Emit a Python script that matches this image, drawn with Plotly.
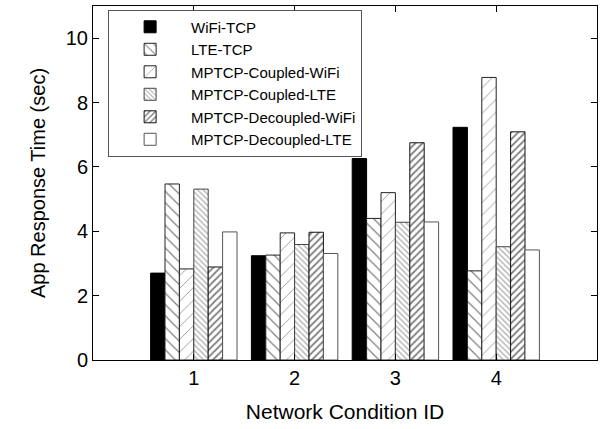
import plotly.graph_objects as go

conditions = [1, 2, 3, 4]
series_names = ["WiFi-TCP", "LTE-TCP", "MPTCP-Coupled-WiFi", "MPTCP-Coupled-LTE",
                "MPTCP-Decoupled-WiFi", "MPTCP-Decoupled-LTE"]
wifi_tcp = [2.70, 3.24, 6.26, 7.23]
lte_tcp = [5.47, 3.26, 4.40, 2.77]
coupled_wifi = [2.83, 3.95, 5.20, 8.78]
coupled_lte = [5.31, 3.59, 4.28, 3.52]
decoupled_wifi = [2.89, 3.97, 6.75, 7.09]
decoupled_lte = [3.98, 3.31, 4.29, 3.42]
values = [wifi_tcp, lte_tcp, coupled_wifi, coupled_lte, decoupled_wifi, decoupled_lte]

styles = [
    dict(color="black", line=dict(color="black", width=1)),
    dict(color="white", line=dict(color="#222", width=1),
         pattern=dict(shape="\\", fgcolor="black", bgcolor="white", size=8, solidity=0.15)),
    dict(color="white", line=dict(color="#222", width=1),
         pattern=dict(shape="/", fgcolor="#333", bgcolor="white", size=9, solidity=0.1)),
    dict(color="white", line=dict(color="#444", width=1),
         pattern=dict(shape="\\", fgcolor="#666", bgcolor="white", size=4, solidity=0.35)),
    dict(color="white", line=dict(color="#111", width=1),
         pattern=dict(shape="/", fgcolor="black", bgcolor="white", size=5, solidity=0.35)),
    dict(color="white", line=dict(color="#555", width=1)),
]

fig = go.Figure()
for name, vals, st in zip(series_names, values, styles):
    fig.add_trace(go.Bar(x=conditions, y=vals, name=name, marker=st))

font_family = "Liberation Sans, Arial, Helvetica, sans-serif"
fig.update_layout(
    width=602, height=429,
    margin=dict(l=93, r=5, t=6, b=69),
    paper_bgcolor="white", plot_bgcolor="white",
    barmode="group", bargap=1/7, bargroupgap=0,
    font=dict(family=font_family, size=20, color="black"),
    showlegend=True,
    legend=dict(x=0.03, y=0.99, xanchor="left", yanchor="top",
                bgcolor="white", bordercolor="#555", borderwidth=1,
                font=dict(size=15), tracegroupgap=0, itemwidth=72),
    xaxis=dict(range=[0, 5], tickvals=conditions, ticktext=[str(c) for c in conditions],
               showline=True, linecolor="black", linewidth=1, mirror="ticks",
               ticks="inside", ticklen=6, tickcolor="black", showgrid=False, zeroline=False,
               tickfont=dict(size=20),
               title=dict(text="Network Condition ID", font=dict(size=21), standoff=16)),
    yaxis=dict(range=[0, 11], tickvals=[0, 2, 4, 6, 8, 10],
               showline=True, linecolor="black", linewidth=1, mirror="ticks",
               ticks="inside", ticklen=6, tickcolor="black", showgrid=False, zeroline=False,
               tickfont=dict(size=20),
               title=dict(text="App Response Time (sec)", font=dict(size=20), standoff=14)),
)

fig.write_html("out.html", config={"displayModeBar": False},
               post_script="document.body.style.margin='0';")
